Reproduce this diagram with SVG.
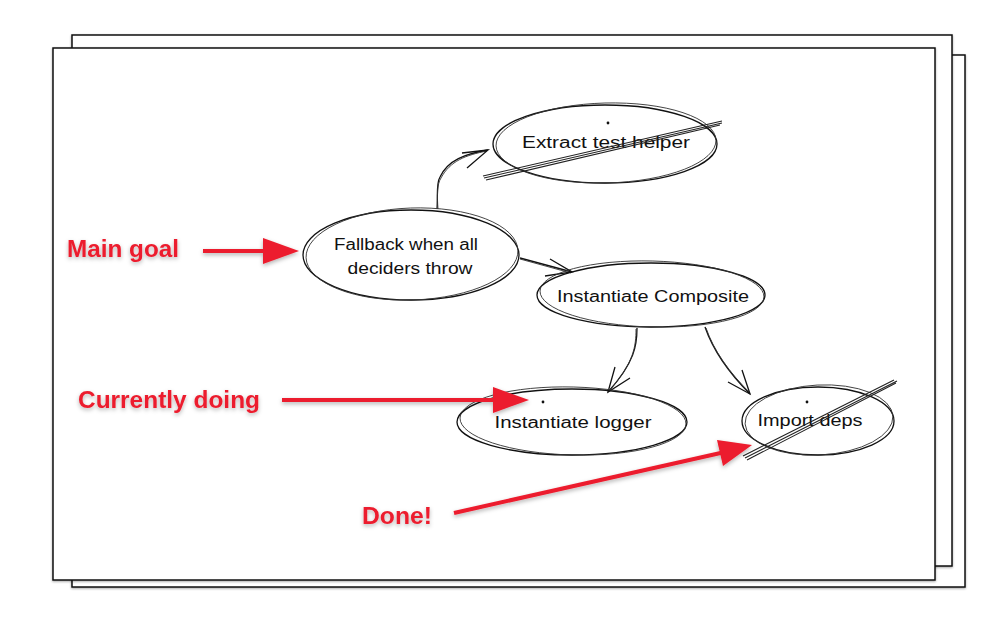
<svg xmlns="http://www.w3.org/2000/svg" width="1000" height="627" viewBox="0 0 1000 627">
<defs>
<filter id="pshadow" x="-5%" y="-5%" width="110%" height="110%"><feDropShadow dx="0" dy="1" stdDeviation="1.2" flood-color="#000" flood-opacity="0.35"/></filter>
<filter id="tshadow" x="-10%" y="-20%" width="120%" height="150%"><feDropShadow dx="0" dy="2" stdDeviation="2" flood-color="#000" flood-opacity="0.3"/></filter>
<style>
.paper{fill:#fff;stroke:#111;stroke-width:1.5}
.sk{fill:none;stroke:#111;stroke-width:1.3}
.sk2{fill:none;stroke:#333;stroke-width:0.9}
.lbl{font-family:"Liberation Sans","DejaVu Sans",sans-serif;font-size:16px;fill:#111;text-anchor:middle}
.red{font-family:"Liberation Sans","Noto Sans",sans-serif;font-weight:bold;font-size:24px;fill:#ec1c2d}
.rline{stroke:#ec1c2d;stroke-width:4;fill:none}
.rhead{fill:#ec1c2d}
.strike{stroke:#222;stroke-width:1.1;fill:none}
.dot{fill:#111}
</style>
</defs>

<g id="papers">
<rect class="paper" x="72" y="55" width="893" height="532" filter="url(#pshadow)"/>
<rect class="paper" x="72" y="35" width="880" height="531" filter="url(#pshadow)"/>
<rect class="paper" x="53" y="48" width="882" height="532" filter="url(#pshadow)"/>
</g>

<g id="connectors">
<path class="sk" d="M437 209 C438 196 436 183 440 177 C448 160 465 154 488 150"/>
<path class="sk2" d="M438 209 C437 196 437 184 441 178 C450 161 466 155 487 151"/>
<path class="sk" d="M462 153 L488 150 L467 168"/>
<path class="sk" d="M520 258 L572 272"/>
<path class="sk2" d="M520 259 L571 273"/>
<path class="sk" d="M550 259 L572 272 L545 276"/>
<path class="sk" d="M637 328 C637 345 635 362 608 392"/>
<path class="sk2" d="M636 329 C636 346 634 363 609 391"/>
<path class="sk" d="M615 367 L608 392 L630 378"/>
<path class="sk" d="M705 327 C713 350 728 372 750 394"/>
<path class="sk2" d="M706 328 C714 351 729 372 750 393"/>
<path class="sk" d="M728 382 L750 394 L742 370"/>
</g>

<g id="node-extract">
<ellipse class="sk" cx="605" cy="144" rx="112" ry="39"/>
<ellipse class="sk2" cx="606" cy="143" rx="110" ry="40" transform="rotate(-1.5 606 143)"/>
<circle class="dot" cx="608" cy="123" r="1.4"/>
<text class="lbl" x="606" y="148" textLength="168" lengthAdjust="spacingAndGlyphs">Extract test helper</text>
<path class="strike" d="M483 176 L722 121 M484 178 L722 123 M486 180 L720 125"/>
</g>

<g id="node-fallback">
<ellipse class="sk" cx="411" cy="255" rx="108" ry="45"/>
<ellipse class="sk2" cx="412" cy="254" rx="106" ry="46" transform="rotate(-2 412 254)"/>
<text class="lbl" x="406" y="250" textLength="144" lengthAdjust="spacingAndGlyphs">Fallback when all</text>
<text class="lbl" x="410" y="274" textLength="125" lengthAdjust="spacingAndGlyphs">deciders throw</text>
</g>

<g id="node-composite">
<ellipse class="sk" cx="651" cy="295" rx="114" ry="32"/>
<ellipse class="sk2" cx="652" cy="294" rx="112" ry="33" transform="rotate(1.5 652 294)"/>
<text class="lbl" x="653" y="302" textLength="192" lengthAdjust="spacingAndGlyphs">Instantiate Composite</text>
</g>

<g id="node-logger">
<ellipse class="sk" cx="572" cy="422" rx="115" ry="33"/>
<ellipse class="sk2" cx="573" cy="421" rx="113" ry="34" transform="rotate(1.5 573 421)"/>
<circle class="dot" cx="543" cy="402" r="1.4"/>
<text class="lbl" x="573" y="428" textLength="157" lengthAdjust="spacingAndGlyphs">Instantiate logger</text>
</g>

<g id="node-import">
<ellipse class="sk" cx="818" cy="421" rx="76" ry="34"/>
<ellipse class="sk2" cx="819" cy="420" rx="74" ry="35" transform="rotate(-3 819 420)"/>
<circle class="dot" cx="807" cy="402" r="1.4"/>
<text class="lbl" x="810" y="426" textLength="105" lengthAdjust="spacingAndGlyphs">Import deps</text>
<path class="strike" d="M745 458 L897 381 M747 460 L896 383 M743 456 L894 380"/>
</g>

<g id="annotations" filter="url(#tshadow)">
<text class="red" x="67" y="257" textLength="112" lengthAdjust="spacingAndGlyphs">Main goal</text>
<line class="rline" x1="203" y1="251" x2="270" y2="251"/>
<polygon class="rhead" points="263,238 299,251 263,264"/>
<text class="red" x="78" y="408" textLength="182" lengthAdjust="spacingAndGlyphs">Currently doing</text>
<line class="rline" x1="282" y1="400" x2="500" y2="400"/>
<polygon class="rhead" points="493,387 529,400 493,413"/>
<text class="red" x="362" y="524" textLength="70" lengthAdjust="spacingAndGlyphs">Done!</text>
<line class="rline" x1="454" y1="513" x2="725" y2="452"/>
<polygon class="rhead" points="717,440 752,445 723,466"/>
</g>
</svg>
